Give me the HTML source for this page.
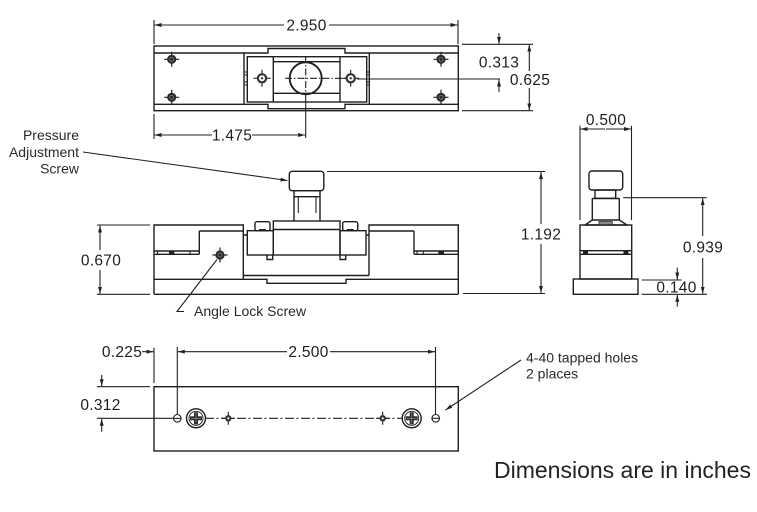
<!DOCTYPE html>
<html><head><meta charset="utf-8"><style>
html,body{margin:0;padding:0;background:#fff;}
svg{display:block;}
.o{fill:none;stroke:#1e1e1e;stroke-width:1.4;}
.d{fill:none;stroke:#222;stroke-width:1.1;}
.t{font-family:"Liberation Sans",Arial,sans-serif;font-size:15.5px;fill:#1e1e1e;letter-spacing:0.3px;}
.l{font-family:"Liberation Sans",Arial,sans-serif;font-size:14px;fill:#2a2a2a;}
</style></head><body>
<svg width="757" height="512" viewBox="0 0 757 512" xmlns="http://www.w3.org/2000/svg">
<defs>
<marker id="a" viewBox="0 0 10 10" refX="10" refY="5" markerWidth="7" markerHeight="7" orient="auto" markerUnits="userSpaceOnUse"><path d="M0,2.2 L10,5 L0,7.8 z" fill="#222"/></marker>
<g id="cs"><path d="M-7.5,0H7.5M0,-7.5V7.5" stroke="#222" stroke-width="1.2"/><circle r="4.6" fill="#2b2b2b"/><circle r="2" fill="none" stroke="#888" stroke-width="0.7"/></g>
<g id="ss"><path d="M-8.5,0H8.5M0,-8.5V8.5" stroke="#222" stroke-width="1.1"/><circle r="5.2" fill="#333"/><circle r="3" fill="#fff"/><circle r="1.2" fill="#333"/></g>
<g id="bs"><circle r="9.5" fill="#fff" stroke="#1e1e1e" stroke-width="1.4"/><circle r="7" fill="none" stroke="#1e1e1e" stroke-width="0.9"/><rect x="-2" y="-6" width="4" height="12" fill="#2b2b2b"/><rect x="-6" y="-2" width="12" height="4" fill="#2b2b2b"/><path d="M0,-5V5M-5,0H5" stroke="#999" stroke-width="0.6"/></g>
<g id="ps"><path d="M-6.5,0H6.5M0,-6.5V6.5" stroke="#222" stroke-width="1.1"/><circle r="3.2" fill="#333"/><circle r="1.1" fill="#fff"/></g>
</defs>

<!-- ================= TOP VIEW ================= -->
<path class="d" d="M154,20V44M458,20V44"/>
<line class="d" x1="284" y1="25" x2="154.5" y2="25" marker-end="url(#a)"/>
<line class="d" x1="329" y1="25" x2="457.5" y2="25" marker-end="url(#a)"/>
<text class="t" x="306.5" y="30.5" text-anchor="middle">2.950</text>

<rect class="o" x="154" y="46" width="304.3" height="64.7"/>
<path class="o" d="M154,53H268V48.5H345V53H458.3"/>
<path class="o" d="M154,104.3H268V108.7H345V104.3H458.3"/>
<path class="o" d="M244,53.3V104.3M369.3,53.3V104.3"/>
<rect class="o" x="247.3" y="56.7" width="119.4" height="45.3"/>
<path class="o" d="M273.3,56.7V102M340,56.7V102M273.3,61.7H340M273.3,93.3H340"/>
<path class="d" d="M244,72H247.3M244,75H247.3M244,82H247.3M244,85H247.3M366.7,72H369.3M366.7,75H369.3M366.7,82H369.3M366.7,85H369.3" stroke-width="0.8"/>
<circle cx="305.7" cy="78.3" r="16" fill="none" stroke="#1e1e1e" stroke-width="1.9"/>
<path class="d" d="M305.7,56V100" stroke-dasharray="7,2,1.5,2"/>
<path class="d" d="M285,78.3H350" stroke-dasharray="7,2,1.5,2"/>
<path class="d" d="M305.7,100V138"/>
<path class="d" d="M357,79H500"/>
<use href="#cs" x="171.7" y="59.3"/>
<use href="#cs" x="171.7" y="97.3"/>
<use href="#cs" x="441" y="59.3"/>
<use href="#cs" x="441" y="97.3"/>
<use href="#ss" x="262" y="78.3"/>
<use href="#ss" x="350.7" y="78.3"/>

<!-- 1.475 -->
<path class="d" d="M154,114V139"/>
<line class="d" x1="212" y1="135" x2="154.5" y2="135" marker-end="url(#a)"/>
<line class="d" x1="252" y1="135" x2="305.2" y2="135" marker-end="url(#a)"/>
<text class="t" x="232" y="140.5" text-anchor="middle">1.475</text>

<!-- right dims -->
<path class="d" d="M462,44.3H533M462,110.7H533"/>
<line class="d" x1="499" y1="33" x2="499" y2="44" marker-end="url(#a)"/>
<line class="d" x1="499" y1="92" x2="499" y2="79.5" marker-end="url(#a)"/>
<text class="t" x="499" y="67.5" text-anchor="middle">0.313</text>
<line class="d" x1="529.3" y1="71" x2="529.3" y2="44.6" marker-end="url(#a)"/>
<line class="d" x1="529.3" y1="88" x2="529.3" y2="110.4" marker-end="url(#a)"/>
<text class="t" x="530" y="85" text-anchor="middle">0.625</text>

<!-- ================= SIDE VIEW ================= -->
<text class="l" x="79" y="140" text-anchor="end">Pressure</text>
<text class="l" x="79" y="157" text-anchor="end">Adjustment</text>
<text class="l" x="79" y="173.5" text-anchor="end">Screw</text>
<line class="d" x1="83" y1="152" x2="287.5" y2="180.5" stroke-width="1" marker-end="url(#a)"/>

<rect class="o" x="289.3" y="171.3" width="34.5" height="19.4" rx="3"/>
<rect class="o" x="294" y="190.7" width="26" height="6"/>
<path class="o" d="M294,196.7V221M320,196.7V221"/>
<path class="d" d="M298.3,197V213M316,197V213"/>

<path class="d" d="M327,171.5H545M463,293.5H545"/>
<line class="d" x1="541" y1="224" x2="541" y2="172" marker-end="url(#a)"/>
<line class="d" x1="541" y1="244" x2="541" y2="293" marker-end="url(#a)"/>
<text class="t" x="541" y="239.5" text-anchor="middle">1.192</text>

<!-- left end block -->
<path class="o" d="M154,294.3V225H243.3V278.5"/>
<path class="o" d="M199.3,231H243.3M199.3,231V254.3"/>
<path class="o" d="M154,251H199.3M154,254.3H199.3" stroke-width="1.1"/>
<path class="d" d="M157.5,251V254.3M190,251V254.3" stroke-width="0.9"/>
<rect x="169" y="251" width="5.3" height="3.3" fill="#222"/>
<!-- right end block -->
<path class="o" d="M458.3,294.3V225H369V275.5"/>
<path class="o" d="M369,231H414M414,231V254.3"/>
<path class="o" d="M414,251H458.3M414,254.3H458.3" stroke-width="1.1"/>
<path class="d" d="M417,251V254.3M423.3,251V254.3" stroke-width="0.9"/>
<rect x="438.3" y="251" width="5.7" height="3.3" fill="#222"/>
<!-- base lines -->
<path class="o" d="M154,294.3H458.3"/>
<path class="o" d="M154,279.3H267V283.3H346V279.3H458.3"/>
<path class="o" d="M244,275.5H369"/>
<!-- middle -->
<path class="o" d="M243.3,235H247.3M366,235H369"/>
<rect class="o" x="247.3" y="230.7" width="26" height="24.3"/>
<rect class="o" x="340" y="230.7" width="26" height="24.3"/>
<rect class="o" x="273.3" y="221" width="66.7" height="34"/>
<path class="o" d="M273.3,229.5H340"/>
<rect class="o" x="255" y="221.7" width="15" height="9" rx="2"/>
<rect class="o" x="342.7" y="221.7" width="15" height="9" rx="2"/>
<path d="M259,229.8H266M346.7,229.8H353.7" stroke="#222" stroke-width="1.6"/>
<path class="o" d="M267,255V259.5H272.7V255M340,255V259.5H345.7V255" stroke-width="1.2"/>
<!-- angle lock screw -->
<use href="#cs" x="220" y="255"/>
<polyline class="d" points="217,259.5 177,311.5 184,311.5" stroke-width="1"/>
<text class="l" x="194" y="316">Angle Lock Screw</text>
<!-- 0.670 -->
<path class="d" d="M97,225H150M97,294.3H150"/>
<line class="d" x1="100" y1="250" x2="100" y2="225.5" marker-end="url(#a)"/>
<line class="d" x1="100" y1="270" x2="100" y2="293.8" marker-end="url(#a)"/>
<text class="t" x="101" y="265.5" text-anchor="middle">0.670</text>

<!-- ================= RIGHT VIEW ================= -->
<path class="d" d="M580,125.7V220M631.5,125.7V220"/>
<line class="d" x1="605" y1="129" x2="580.5" y2="129" marker-end="url(#a)"/>
<line class="d" x1="606" y1="129" x2="631" y2="129" marker-end="url(#a)"/>
<text class="t" x="606" y="125" text-anchor="middle">0.500</text>
<rect class="o" x="589" y="171" width="33.7" height="19" rx="3"/>
<rect class="o" x="595" y="190" width="20.7" height="8.3"/>
<path class="o" d="M592.3,198.3V220M619.3,198.3V220M592.3,198.5H619.3"/>
<path class="o" d="M592.3,220H619.3L627,225H585Z"/>
<rect x="599" y="221.5" width="13.3" height="3.5" fill="#888" stroke="#222" stroke-width="0.7"/>
<rect class="o" x="580" y="225" width="51.7" height="54"/>
<path class="o" d="M580,250.7H631.7M580,254.3H631.7" stroke-width="1.1"/>
<rect x="583" y="250.7" width="5" height="3.6" fill="#222"/>
<rect x="623.5" y="250.7" width="5" height="3.6" fill="#222"/>
<rect class="o" x="573.3" y="279" width="64.7" height="15.3"/>
<!-- 0.939 -->
<path class="d" d="M623.3,197.7H706.7"/>
<line class="d" x1="702.7" y1="236" x2="702.7" y2="198.2" marker-end="url(#a)"/>
<line class="d" x1="702.7" y1="258" x2="702.7" y2="293.8" marker-end="url(#a)"/>
<text class="t" x="703" y="252.5" text-anchor="middle">0.939</text>
<!-- 0.140 -->
<path class="d" d="M641.7,280H681.7M641.7,294.3H707"/>
<line class="d" x1="677.3" y1="267.7" x2="677.3" y2="279.5" marker-end="url(#a)"/>
<line class="d" x1="677.3" y1="306.7" x2="677.3" y2="294.8" marker-end="url(#a)"/>
<text class="t" x="676.5" y="292.5" text-anchor="middle">0.140</text>

<!-- ================= BOTTOM VIEW ================= -->
<rect class="o" x="154" y="386.7" width="304.3" height="64.3"/>
<path class="d" d="M177.3,347V414.5M435.5,347V414.5"/>
<line class="d" x1="287" y1="351.7" x2="177.8" y2="351.7" marker-end="url(#a)"/>
<line class="d" x1="330" y1="351.7" x2="435" y2="351.7" marker-end="url(#a)"/>
<text class="t" x="308.5" y="357.2" text-anchor="middle">2.500</text>
<text class="t" x="122" y="357.2" text-anchor="middle">0.225</text>
<line class="d" x1="142" y1="351.7" x2="153.5" y2="351.7" marker-end="url(#a)"/>
<path class="d" d="M154,347.7V383"/>
<!-- 0.312 -->
<path class="d" d="M97,386.7H150M97,418.3H173.5"/>
<line class="d" x1="101.7" y1="375" x2="101.7" y2="386.2" marker-end="url(#a)"/>
<line class="d" x1="101.7" y1="431.7" x2="101.7" y2="418.8" marker-end="url(#a)"/>
<text class="t" x="100.5" y="409.8" text-anchor="middle">0.312</text>
<!-- holes/screws -->
<path class="d" d="M205,418.3H403" stroke-dasharray="9,2.5,2,2.5"/>
<circle cx="177.3" cy="418.3" r="3.8" fill="#fff" stroke="#1e1e1e" stroke-width="1.1"/>
<circle cx="435.7" cy="418.3" r="3.8" fill="#fff" stroke="#1e1e1e" stroke-width="1.1"/>
<path class="d" d="M173.5,418.3H181.1M431.9,418.3H439.5" stroke-width="0.8"/>
<use href="#bs" x="196" y="418.3"/>
<use href="#bs" x="411.7" y="418.3"/>
<use href="#ps" x="228.3" y="418.3"/>
<use href="#ps" x="382.7" y="418.3"/>
<!-- tapped holes label -->
<line class="d" x1="521" y1="360" x2="445.5" y2="410" stroke-width="1" marker-end="url(#a)"/>
<text class="l" x="526" y="362.3">4-40 tapped holes</text>
<text class="l" x="526" y="378.3">2 places</text>

<text x="494" y="478" font-family="'Liberation Sans',Arial,sans-serif" font-size="23" fill="#222">Dimensions are in inches</text>
</svg>
</body></html>
